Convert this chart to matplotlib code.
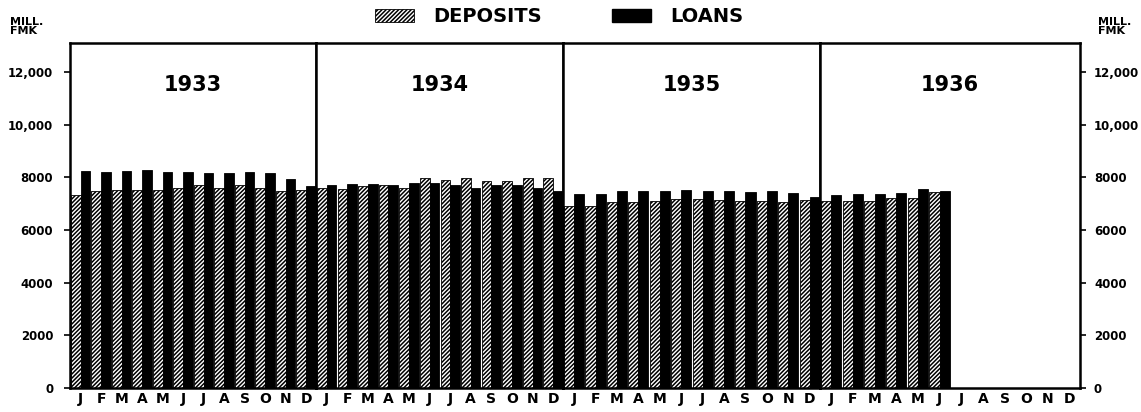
import matplotlib
matplotlib.use("Agg")
import matplotlib.pyplot as plt
from matplotlib.patches import Patch
import numpy as np

plt.rcParams["hatch.linewidth"] = 1.1
plt.rcParams["font.family"] = ["DejaVu Sans"]

YEARS = ["1933", "1934", "1935", "1936"]
MONTHS = ["J", "F", "M", "A", "M", "J", "J", "A", "S", "O", "N", "D"]

# mill. FMK
dep_1933 = [7330, 7460, 7520, 7520, 7520, 7590, 7690, 7610, 7690, 7590, 7480, 7520]
loan_1933 = [8220, 8190, 8250, 8280, 8190, 8190, 8150, 8150, 8190, 8150, 7940, 7670]
dep_1934 = [7580, 7550, 7670, 7710, 7610, 7960, 7900, 7960, 7870, 7840, 7960, 7960]
loan_1934 = [7710, 7740, 7740, 7710, 7770, 7770, 7710, 7580, 7710, 7710, 7580, 7460]
dep_1935 = [6910, 6910, 7050, 7080, 7100, 7170, 7170, 7140, 7100, 7100, 7050, 7140]
loan_1935 = [7360, 7360, 7460, 7460, 7460, 7520, 7480, 7460, 7430, 7460, 7390, 7270]
dep_1936 = [7100, 7100, 7100, 7200, 7230, 7430]
loan_1936 = [7330, 7370, 7370, 7390, 7550, 7490]

deposits = [dep_1933, dep_1934, dep_1935, dep_1936]
loans = [loan_1933, loan_1934, loan_1935, loan_1936]
YTICKS = [0, 2000, 4000, 6000, 8000, 10000, 12000]
YTICKLABELS = ["0", "2000", "4000", "6000", "8000", "10,000", "12,000"]

fig = plt.figure(figsize=(11.41, 4.12), dpi=100)
gs = fig.add_gridspec(1, 4, width_ratios=[246, 247, 257, 260], wspace=0,
                      left=0.0613, right=0.9466, bottom=0.058, top=0.896)
axes = [fig.add_subplot(gs[0, i]) for i in range(4)]

w = 0.47
for i, ax in enumerate(axes):
    d, l = deposits[i], loans[i]
    x = np.arange(len(d)) + 0.52
    ax.bar(x - w / 2, d, width=w, color="white", edgecolor="black",
           hatch="////////", linewidth=0.6)
    ax.bar(x + w / 2, l, width=w, color="black", edgecolor="black", linewidth=0.6)
    ax.set_xlim(0, 12)
    ax.set_ylim(0, 13100)
    ax.set_xticks(np.arange(12) + 0.52)
    ax.set_xticklabels(MONTHS, fontsize=10, fontweight="bold")
    ax.tick_params(axis="x", length=0, pad=3)
    ax.set_yticks(YTICKS)
    ax.tick_params(axis="y", length=4, width=1.2)
    for s in ax.spines.values():
        s.set_linewidth(1.8)
    ax.text(6, 11500, YEARS[i], ha="center", va="center",
            fontsize=15, fontweight="bold")
    if i == 0:
        ax.set_yticklabels(YTICKLABELS, fontsize=8.5, fontweight="bold")
        ax.tick_params(axis="y", pad=8)
    elif i == 3:
        ax.yaxis.tick_right()
        ax.set_yticklabels(YTICKLABELS, fontsize=8.5, fontweight="bold")
        ax.tick_params(axis="y", pad=6)
    else:
        ax.tick_params(axis="y", left=False, labelleft=False)

fig.text(0.009, 0.935, "MILL.\nFMK", fontsize=8, fontweight="bold",
         ha="left", va="center", linespacing=0.9)
fig.text(0.962, 0.935, "MILL.\nFMK", fontsize=8, fontweight="bold",
         ha="left", va="center", linespacing=0.9)

handles = [Patch(facecolor="white", edgecolor="black", hatch="////////", linewidth=0.6),
           Patch(facecolor="black", edgecolor="black")]
fig.legend(handles, ["DEPOSITS", "LOANS"], loc="upper center",
           bbox_to_anchor=(0.49, 1.025), ncol=2, frameon=False,
           prop={"weight": "bold", "size": 14}, handlelength=2.0,
           handleheight=0.6, columnspacing=3.6, handletextpad=1.0)

fig.savefig("out.png", dpi=100)
